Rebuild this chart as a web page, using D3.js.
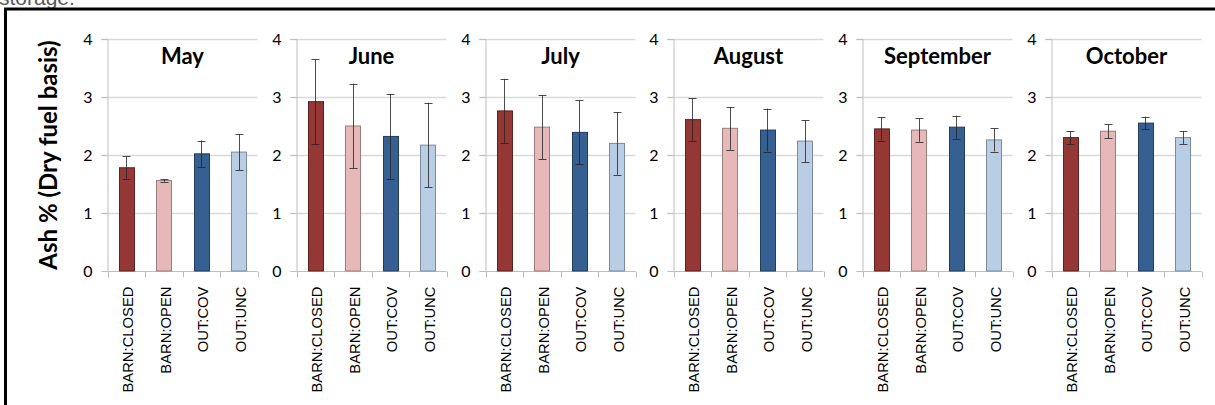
<!DOCTYPE html>
<html><head><meta charset="utf-8">
<script src="https://cdn.jsdelivr.net/npm/d3@7"></script>
<style>
html,body{margin:0;padding:0;background:#fff;overflow:hidden;}
svg{display:block;}
</style></head>
<body>
<svg id="chart" width="1215" height="405"></svg>
<script>
const months = ["May","June","July","August","September","October"];
const categories = ["BARN:CLOSED","BARN:OPEN","OUT:COV","OUT:UNC"];
const yTicks = [0,1,2,3,4];
// mean ash % per series, one value per month
const barnClosed = [1.78, 2.92, 2.76, 2.61, 2.45, 2.30];
const barnOpen   = [1.56, 2.50, 2.48, 2.46, 2.43, 2.41];
const outCov     = [2.02, 2.32, 2.39, 2.43, 2.48, 2.55];
const outUnc     = [2.05, 2.17, 2.20, 2.24, 2.26, 2.30];
// error bar half-widths
const barnClosedErr = [0.20, 0.73, 0.55, 0.37, 0.20, 0.11];
const barnOpenErr   = [0.02, 0.73, 0.55, 0.37, 0.20, 0.12];
const outCovErr     = [0.23, 0.73, 0.55, 0.37, 0.20, 0.11];
const outUncErr     = [0.31, 0.73, 0.54, 0.36, 0.20, 0.11];

const seriesVals = [barnClosed, barnOpen, outCov, outUnc];
const seriesErr = [barnClosedErr, barnOpenErr, outCovErr, outUncErr];
const fills = ["#953735","#E6B9B8","#376092","#B9CDE5"];
const strokes = ["#5e2221","#9c7d7c","#223c5c","#7d8a9b"];

const svg = d3.select("#chart");

// partial caption line above the frame
svg.append("text").attr("x",-1).attr("y",5)
  .attr("font-family","Liberation Sans, Arial, sans-serif").attr("font-size",21)
  .attr("fill","#595959").text("storage.");

// outer frame (extends past right/bottom edge)
svg.append("rect").attr("x",5.5).attr("y",9).attr("width",1230).attr("height",420)
  .attr("fill","none").attr("stroke","#000").attr("stroke-width",3);

const y = d3.scaleLinear().domain([0,4]).range([271,39]);
const panelX = d3.scaleBand().domain(months).range([107.3, 107.3 + 6*188.7]).padding(0);
const plotW = 150;

// y axis title
svg.append("text")
  .attr("transform",`translate(57,${(y(0)+y(4))/2}) rotate(-90)`)
  .attr("text-anchor","middle")
  .attr("font-family","Lato, 'Open Sans', sans-serif").attr("font-weight","bold")
  .attr("font-size",24).attr("fill","#000")
  .text("Ash % (Dry fuel basis)");

months.forEach((m, mi) => {
  const x0 = Math.round(panelX(m)) + 0.5;
  const g = svg.append("g");
  const x = d3.scaleBand().domain(categories).range([x0, x0+plotW])
    .paddingInner(0.6).paddingOuter(0.3);

  // gridlines (with outward tick)
  g.selectAll("line.grid").data(yTicks.slice(1)).join("line")
    .attr("x1", x0-6).attr("x2", x0+plotW)
    .attr("y1", d => Math.round(y(d))+0.5).attr("y2", d => Math.round(y(d))+0.5)
    .attr("stroke","#d9d9d9").attr("stroke-width",1.3);

  // y axis
  const ya = d3.axisLeft(y).tickValues(yTicks).tickSize(6).tickPadding(9).tickFormat(d3.format("d"));
  const yg = g.append("g").attr("transform",`translate(${x0},0)`).call(ya);
  yg.select(".domain").attr("stroke","#bfbfbf");
  yg.selectAll(".tick line").attr("stroke","#bfbfbf");
  yg.selectAll(".tick text").attr("font-family","Lato, 'Open Sans', sans-serif")
    .attr("font-size",16).attr("fill","#000");

  // x axis baseline
  const y0 = Math.round(y(0))+0.5;
  g.append("line").attr("x1",x0).attr("x2",x0+plotW).attr("y1",y0).attr("y2",y0)
    .attr("stroke","#bfbfbf");
  // boundary ticks
  const bounds = d3.range(categories.length+1).map(i => x.range()[0] + i*x.step());
  g.selectAll("line.bt").data(bounds).join("line")
    .attr("x1", d => Math.round(d)+0.5).attr("x2", d => Math.round(d)+0.5)
    .attr("y1", y0).attr("y2", y0+6).attr("stroke","#bfbfbf");

  // category labels
  g.selectAll("text.cat").data(categories).join("text")
    .attr("transform", d => `translate(${x(d)+x.bandwidth()/2+1.5},${y0+15}) rotate(-90)`)
    .attr("text-anchor","end").attr("dy","0.36em")
    .attr("font-family","Liberation Sans, Arial, sans-serif").attr("font-size",14.8)
    .attr("fill","#000").text(d => d);

  // bars
  const rows = categories.map((c, ci) => ({c, ci, v: seriesVals[ci][mi], e: seriesErr[ci][mi]}));
  g.selectAll("rect.bar").data(rows).join("rect")
    .attr("x", d => Math.round(x(d.c))+0.5).attr("width", x.bandwidth())
    .attr("y", d => y(d.v)).attr("height", d => y(0)-y(d.v))
    .attr("fill", d => fills[d.ci]).attr("stroke", d => strokes[d.ci]).attr("stroke-width",1);

  // error bars
  const eb = g.selectAll("g.err").data(rows).join("g")
    .attr("stroke","#222").attr("stroke-opacity",0.8).attr("stroke-width",1);
  eb.append("line")
    .attr("x1", d => Math.round(x(d.c)+x.bandwidth()/2)+0.5)
    .attr("x2", d => Math.round(x(d.c)+x.bandwidth()/2)+0.5)
    .attr("y1", d => y(d.v+d.e)).attr("y2", d => y(d.v-d.e));
  eb.append("line")
    .attr("x1", d => Math.round(x(d.c)+x.bandwidth()/2)-3.5)
    .attr("x2", d => Math.round(x(d.c)+x.bandwidth()/2)+4.5)
    .attr("y1", d => Math.round(y(d.v+d.e))+0.5).attr("y2", d => Math.round(y(d.v+d.e))+0.5);
  eb.append("line")
    .attr("x1", d => Math.round(x(d.c)+x.bandwidth()/2)-3.5)
    .attr("x2", d => Math.round(x(d.c)+x.bandwidth()/2)+4.5)
    .attr("y1", d => Math.round(y(d.v-d.e))+0.5).attr("y2", d => Math.round(y(d.v-d.e))+0.5);

  // month title
  g.append("text").attr("x", x0+plotW/2).attr("y", 64)
    .attr("text-anchor","middle")
    .attr("font-family","Lato, 'Open Sans', sans-serif").attr("font-weight","bold")
    .attr("font-size",22).attr("fill","#000").text(m);
});
</script>
</body></html>
